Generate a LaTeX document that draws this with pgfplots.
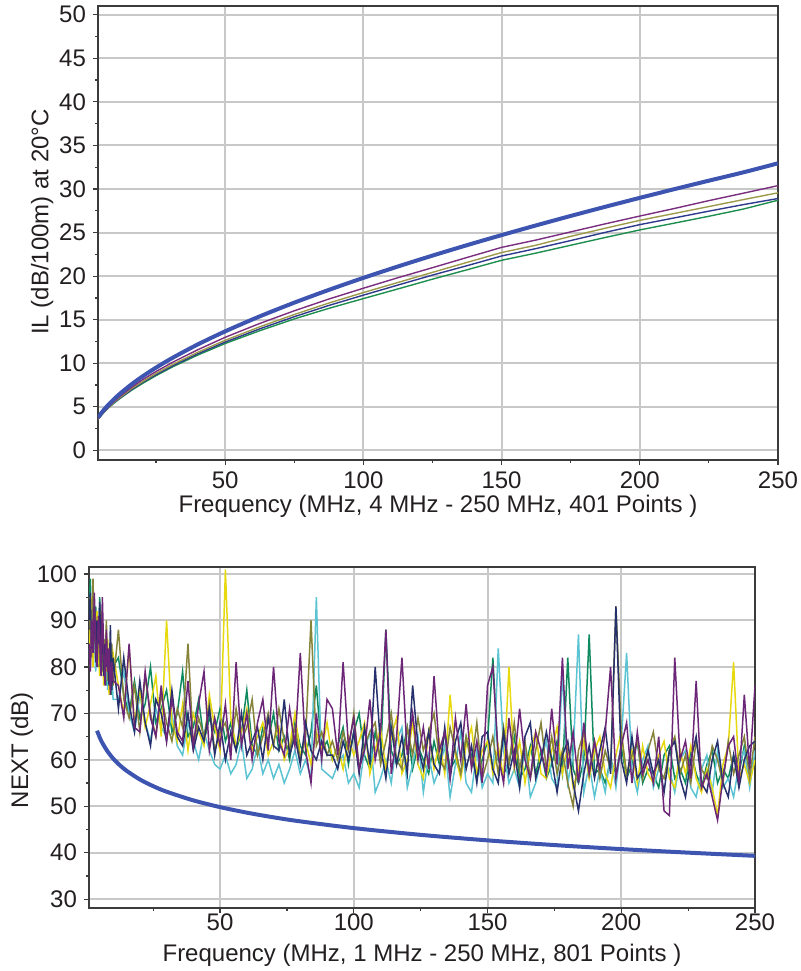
\documentclass[border=0pt]{standalone}
\usepackage{pgfplots}
\usepackage{pgfplotstable}
\pgfplotsset{compat=1.18}
\usepackage{fontspec}
\setmainfont{Liberation Sans}
\definecolor{limblue}{RGB}{61,85,176}
\definecolor{ilpurple}{RGB}{123,45,127}
\definecolor{ilolive}{RGB}{156,154,74}
\definecolor{ilnavy}{RGB}{46,58,140}
\definecolor{ilgreen}{RGB}{30,142,78}
\definecolor{nxgreen}{RGB}{15,138,95}
\definecolor{nxcyan}{RGB}{91,195,210}
\definecolor{nxyellow}{RGB}{230,217,15}
\definecolor{nxolive}{RGB}{133,132,58}
\definecolor{nxnavy}{RGB}{38,48,108}
\definecolor{nxpurple}{RGB}{108,38,119}
\definecolor{gridgray}{RGB}{200,200,200}
\definecolor{spine}{RGB}{60,60,60}
\definecolor{txt}{RGB}{35,31,32}

\pgfplotstableread{
f L P O N G
4 3.784 3.614 3.595 3.595 3.576
6 4.612 4.404 4.358 4.335 4.312
8 5.320 5.081 5.001 4.974 4.948
10 5.951 5.683 5.594 5.534 5.475
12 6.525 6.231 6.101 6.036 5.970
16 7.554 7.214 7.063 6.950 6.874
20 8.470 8.089 7.877 7.792 7.665
25 9.505 9.058 8.840 8.697 8.583
31.25 10.674 10.162 9.905 9.745 9.628
40 12.147 11.540 11.248 11.078 10.932
50 13.663 12.980 12.638 12.433 12.269
62.5 15.382 14.567 14.182 13.951 13.736
75 16.956 16.023 15.600 15.345 15.091
87.5 18.421 17.371 16.910 16.634 16.303
100 19.800 18.612 18.117 17.820 17.424
112.5 21.108 19.820 19.272 18.976 18.533
125 22.357 20.971 20.434 20.121 19.652
137.5 23.556 22.143 21.577 21.200 20.729
150 24.709 23.301 22.708 22.312 21.818
162.5 25.826 24.147 23.553 23.166 22.649
175 26.908 25.078 24.567 24.083 23.545
187.5 27.959 26.002 25.499 25.023 24.436
200 28.983 26.896 26.404 25.911 25.302
212.5 29.982 27.763 27.194 26.684 26.084
225 30.958 28.667 27.986 27.460 26.872
237.5 31.914 29.520 28.786 28.212 27.701
250 32.950 30.386 29.565 28.908 28.711
}\iltable

\pgfplotstableread{
f L
4 66.27
5 64.82
6 63.63
8 61.75
10 60.30
12 59.11
15 57.66
20 55.78
25 54.33
30 53.14
40 51.27
50 49.82
60 48.63
70 47.62
80 46.75
100 45.30
125 43.85
150 42.66
175 41.65
200 40.78
225 40.02
250 39.33
}\nextlimit

\pgfplotstableread{
f g c y o n p
1 92 84 88 95 90 85
1.5 99 80 83 88 96 79
2 86 91 95 82 84 90
2.5 97 85 80 99 89 83
3 84 88 90 86 93 96
3.5 93 79 85 91 81 84
4 88 86 92 84 90 80
4.5 80 90 83 89 85 91
5 95 82 78 80 94 86
5.5 85 87 88 92 82 78
6 90 80 84 79 87 95
6.5 79 84 76 86 78 83
7 86 77 82 81 85 76
7.5 76 81 79 90 80 88
8 84 75 86 77 83 79
8.5 78 83 74 84 76 84
9 82 76 80 78 89 74
9.5 74 80 77 85 75 81
10 80 73 83 76 82 77
12 82 73 76 88 71 76
14 74 79 70 73 82 69
16 70 70 84 69 72 85
18 77 66 68 76 66 67
20 69 74 75 66 77 66
22 72 68 67 78 68 79
24 80 64 72 70 63 69
26 68 71 78 65 73 65
28 71 67 65 74 70 76
30 75 65 90 68 64 64
32 66 70 68 64 75 73
34 70 63 64 71 65 66
36 79 61 72 67 63 64
38 65 68 62 85 70 77
40 67 64 70 63 62 63
42 73 60 66 69 67 72
44 64 66 63 65 64 79
46 69 62 74 72 71 62
48 66 59 67 62 61 69
50 71 58 62 66 68 63
52 64 61 101 68 60 72
54 68 57 69 62 66 60
56 62 59 63 71 62 81
58 66 64 66 64 70 63
60 75 56 71 67 61 70
62 63 58 62 73 64 60
64 61 63 65 61 67 68
66 67 57 68 65 60 73
68 64 60 61 70 69 62
70 70 56 64 63 63 80
72 62 59 67 71 62 64
74 65 55 60 64 73 61
76 60 58 63 62 61 71
78 68 62 70 67 65 63
80 63 57 61 60 59 83
82 61 60 64 65 68 62
84 66 56 59 90 62 55
86 76 95 66 63 60 70
88 62 58 62 66 64 60
90 64 57 68 61 61 73
92 60 56 60 64 61 71
94 63 59 63 60 58 61
96 67 61 58 66 64 81
98 59 55 65 62 60 63
100 66 57 61 70 66 69
102 70 54 64 58 57 58
104 61 62 68 63 67 62
106 58 66 57 66 59 73
108 66 53 62 68 80 60
110 60 56 67 59 63 66
112 88 60 58 64 56 88
114 62 55 65 70 67 57
116 59 64 69 60 59 65
118 61 67 57 58 65 82
120 67 54 60 67 57 61
122 58 59 68 61 76 70
124 63 65 59 69 63 60
126 60 53 56 62 58 67
128 57 61 66 66 66 58
130 64 55 58 70 59 78
132 59 58 64 60 57 62
134 66 63 57 58 67 66
136 58 52 74 67 56 56
138 60 59 61 62 64 69
140 57 66 56 57 68 60
142 65 55 63 65 58 72
144 61 53 67 59 63 58
146 56 62 57 68 55 64
148 60 54 62 56 65 55
150 64 57 64 60 66 76
152 82 55 57 65 58 80
154 60 84 63 57 55 61
156 57 62 56 67 66 55
158 59 55 80 59 57 69
160 65 58 58 68 62 59
162 56 54 64 58 54 71
164 58 63 55 64 65 60
166 63 52 62 56 68 56
168 57 55 66 62 56 66
170 62 60 57 68 60 62
172 56 64 56 58 66 57
174 59 56 62 65 60 71
176 64 54 67 57 53 59
178 57 79 57 62 61 82
180 82 55 63 55 64 58
182 58 61 54 50 55 66
184 55 87 58 62 49 55
186 60 53 64 66 57 68
188 87 59 56 57 63 57
190 57 52 62 64 56 64
192 58 58 65 56 62 58
194 55 53 57 62 67 66
196 60 61 54 58 57 80
198 57 54 61 93 93 56
200 63 64 66 66 60 63
202 56 83 56 57 55 68
204 59 58 62 61 65 55
206 64 53 55 64 56 66
208 55 60 63 56 58 57
210 58 63 57 62 62 60
212 57 54 55 66 57 55
214 54 58 61 58 60 65
216 61 56 64 56 53 49
218 63 58 56 62 62 48
220 56 53 54 65 64 82
222 58 60 62 57 56 60
224 55 62 57 61 52 64
226 62 54 63 55 60 56
228 57 52 56 64 65 77
230 54 58 53 58 55 54
232 59 61 58 56 53 57
234 62 53 54 63 60 52
236 55 62 48 60 64 47
238 58 54 59 55 55 56
240 56 56 63 64 52 63
242 61 52 81 57 61 65
244 57 59 56 61 54 55
246 63 62 59 65 60 74
248 58 54 55 56 63 58
250 60 62 60 65 64 76
}\nexttable

\pgfplotsset{myaxis/.style={
  scale only axis,
  tick align=outside,
  tick pos=left,
  grid=major,
  major grid style={draw=gridgray, line width=1pt},
  axis line style={draw=spine, line width=0.8pt},
  major tick length=2.5pt,
  minor tick length=1.5pt,
  tick style={draw=spine, line width=0.6pt},
  tick label style={font=\fontsize{12}{14}\selectfont, text=txt},
  label style={font=\fontsize{12}{14}\selectfont, text=txt},
  /pgf/number format/assume math mode=true,
  xtick={50,100,150,200,250},
  minor xtick={25,75,125,175,225},
}}

\begin{document}
\begin{tikzpicture}
\useasboundingbox (0,0) rectangle (400.5pt,-485.5pt);

\begin{axis}[myaxis,
  at={(49pt,-230pt)}, anchor=south west,
  width=340pt, height=227pt,
  xmin=4, xmax=250, ymin=-1.1, ymax=51,
  ytick={0,5,...,50},
  minor ytick={2.5,7.5,...,47.5},
  xlabel={Frequency (MHz, 4 MHz - 250 MHz, 401 Points )},
  ylabel={IL (dB/100m) at 20°C},
  xlabel style={at={(axis description cs:0.5,-0.101)}, anchor=center},
  ylabel style={at={(axis description cs:-0.082,0.524)}, anchor=center, rotate=0},
]
\addplot[ilgreen, line width=0.7pt] table[x=f, y=G] {\iltable};
\addplot[ilnavy, line width=0.7pt] table[x=f, y=N] {\iltable};
\addplot[ilolive, line width=0.7pt] table[x=f, y=O] {\iltable};
\addplot[ilpurple, line width=0.7pt] table[x=f, y=P] {\iltable};
\addplot[limblue, line width=2pt, smooth] table[x=f, y=L] {\iltable};
\end{axis}

\begin{axis}[myaxis,
  at={(44.5pt,-454pt)}, anchor=south west,
  width=333pt, height=170.5pt,
  xmin=1, xmax=250, ymin=28.1, ymax=101.5,
  ytick={30,40,...,100},
  minor ytick={35,45,...,95},
  x tick label style={yshift=3pt},
  xlabel={Frequency (MHz, 1 MHz - 250 MHz, 801 Points )},
  ylabel={NEXT (dB)},
  xlabel style={at={(axis description cs:0.5,-0.138)}, anchor=center},
  ylabel style={at={(axis description cs:-0.1006,0.463)}, anchor=center},
]
\addplot[nxgreen, line width=0.75pt] table[x=f, y=g] {\nexttable};
\addplot[nxcyan, line width=0.75pt] table[x=f, y=c] {\nexttable};
\addplot[nxyellow, line width=0.75pt] table[x=f, y=y] {\nexttable};
\addplot[nxolive, line width=0.75pt] table[x=f, y=o] {\nexttable};
\addplot[nxnavy, line width=0.75pt] table[x=f, y=n] {\nexttable};
\addplot[nxpurple, line width=0.75pt] table[x=f, y=p] {\nexttable};
\addplot[limblue, line width=2pt, smooth] table[x=f, y=L] {\nextlimit};
\end{axis}
\end{tikzpicture}
\end{document}
